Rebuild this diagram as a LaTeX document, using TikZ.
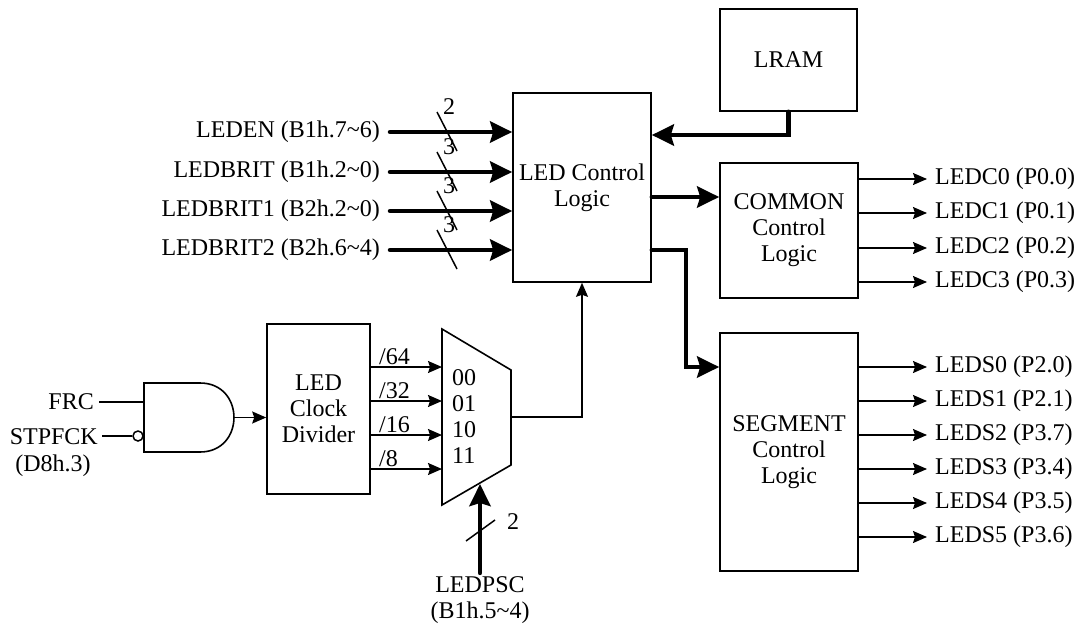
\documentclass[tikz,border=0pt]{standalone}
\usepackage{fontspec}
\setmainfont{Liberation Serif}
\usetikzlibrary{arrows.meta}
\begin{document}
\begin{tikzpicture}[x=1pt,y=-1pt,
  font=\fontsize{24}{26}\selectfont,
  box/.style={draw,line width=1.6pt,inner sep=0pt,align=center},
  wire/.style={line width=1.5pt},
  wirearrow/.style={wire,-{Stealth[length=14pt,width=12pt,inset=2pt]}},
  bus/.style={line width=4.5pt,line join=miter,line cap=round},
  busarrow/.style={bus,-{Stealth[length=22pt,width=21pt,inset=3pt]}},
  inlbl/.style={anchor=east,inner sep=10pt},
  outlbl/.style={anchor=west,inner sep=8pt},
  small/.style={inner sep=0pt}
]
\useasboundingbox (0,0) rectangle (1079,626);

% blocks
\node[box,minimum width=138pt,minimum height=189pt] (ctrl) at (582,187.5) {LED Control\\Logic};
\node[box,minimum width=137pt,minimum height=102pt] (lram) at (788.5,60) {LRAM};
\node[box,minimum width=138pt,minimum height=135pt] (common) at (789,230.5) {COMMON\\Control\\Logic};
\node[box,minimum width=138pt,minimum height=238pt] (seg) at (789,452) {SEGMENT\\Control\\Logic};
\node[box,minimum width=103pt,minimum height=170pt] (div) at (318.5,409) {LED\\Clock\\Divider};

% multiplexer
\coordinate (m1) at (442,329);
\coordinate (m2) at (511,370);
\coordinate (m3) at (511,465);
\coordinate (m4) at (442,505);
\draw[line width=1.6pt,line join=miter] (m1) -- (m2) -- (m3) -- (m4) -- cycle;
\node[small,anchor=west] (s0) at (452,378) {00};
\node[small,anchor=west] (s1) at (452,404) {01};
\node[small,anchor=west] (s2) at (452,430) {10};
\node[small,anchor=west] (s3) at (452,456) {11};

% divider outputs
\foreach \y/\t in {367/64,401/32,435/16,469/8}{
  \draw[wirearrow] (div.east |- 0,\y) -- (m1 |- 0,\y);
  \node[small,anchor=base west] at (379,\y-3) {/\t};
}

% mux output to control logic
\coordinate (mout) at (511,417);
\draw[wirearrow] (mout) -| (ctrl.south);

% LEDPSC select
\node[align=center] (psc) at (480,600) {LEDPSC\\(B1h.5\textasciitilde4)};
\draw[busarrow] (psc.north) -- (psc.north |- 0,484);
\draw[wire] (466,541) -- (495,520);
\node[small] (pscw) at (513,522) {2};

% AND gate
\draw[line width=1.6pt,line join=miter] (200,383) -- (144,383) -- (144,452) -- (200,452)
  .. controls (245.3,452) and (245.3,383) .. (200,383);
\coordinate (gin1) at (144,402);
\coordinate (gout) at (234,417.5);
\node[circle,draw,line width=1.5pt,minimum size=10pt,inner sep=0pt] (bub) at (138,436) {};
\node[anchor=east,inner sep=5pt] (frc) at (99,402) {FRC};
\node[anchor=east,inner sep=4pt] (stp) at (102,437) {STPFCK};
\node (d8) at (53,466) {(D8h.3)};
\draw[wire] (frc.east) -- (gin1);
\draw[wire] (stp.east |- bub.west) -- (bub.west);
\draw[wirearrow] (gout) -- (gout -| div.west);

% inputs to control logic
\node[inlbl] (ien) at (390,132) {LEDEN (B1h.7\textasciitilde6)};
\node[inlbl] (ibr) at (390,172) {LEDBRIT (B1h.2\textasciitilde0)};
\node[inlbl] (ibr1) at (390,211) {LEDBRIT1 (B2h.2\textasciitilde0)};
\node[inlbl] (ibr2) at (390,250) {LEDBRIT2 (B2h.6\textasciitilde4)};
\foreach \n/\w in {ien/2,ibr/3,ibr1/3,ibr2/3}{
  \draw[busarrow] (\n.east) -- (\n.east -| ctrl.west);
  \draw[wire] ([xshift=47pt,yshift=20pt]\n.east) -- ([xshift=67pt,yshift=-19pt]\n.east);
  \node[small] at ([xshift=59pt,yshift=25pt]\n.east) {\w};
}

% LRAM to control
\coordinate (lturn) at (788.5,135);
\draw[busarrow] (lram.south) -- (lturn) -- (lturn -| ctrl.east);

% control to common and segment
\draw[busarrow] (ctrl.east |- 0,197) -- (common.west |- 0,197);
\coordinate (sturn1) at (686,250);
\coordinate (sturn2) at (686,367);
\draw[busarrow] (ctrl.east |- sturn1) -- (sturn1) -- (sturn2) -- (sturn2 -| seg.west);

% common outputs
\node[outlbl] (c0) at (927,179) {LEDC0 (P0.0)};
\node[outlbl] (c1) at (927,213) {LEDC1 (P0.1)};
\node[outlbl] (c2) at (927,248) {LEDC2 (P0.2)};
\node[outlbl] (c3) at (927,282) {LEDC3 (P0.3)};
\foreach \n in {c0,c1,c2,c3}{
  \draw[wirearrow] (common.east |- \n.west) -- (\n.west);
}

% segment outputs
\node[outlbl] (s0o) at (927,367) {LEDS0 (P2.0)};
\node[outlbl] (s1o) at (927,401) {LEDS1 (P2.1)};
\node[outlbl] (s2o) at (927,435) {LEDS2 (P3.7)};
\node[outlbl] (s3o) at (927,469) {LEDS3 (P3.4)};
\node[outlbl] (s4o) at (927,503) {LEDS4 (P3.5)};
\node[outlbl] (s5o) at (927,537) {LEDS5 (P3.6)};
\foreach \n in {s0o,s1o,s2o,s3o,s4o,s5o}{
  \draw[wirearrow] (seg.east |- \n.west) -- (\n.west);
}
\end{tikzpicture}
\end{document}
